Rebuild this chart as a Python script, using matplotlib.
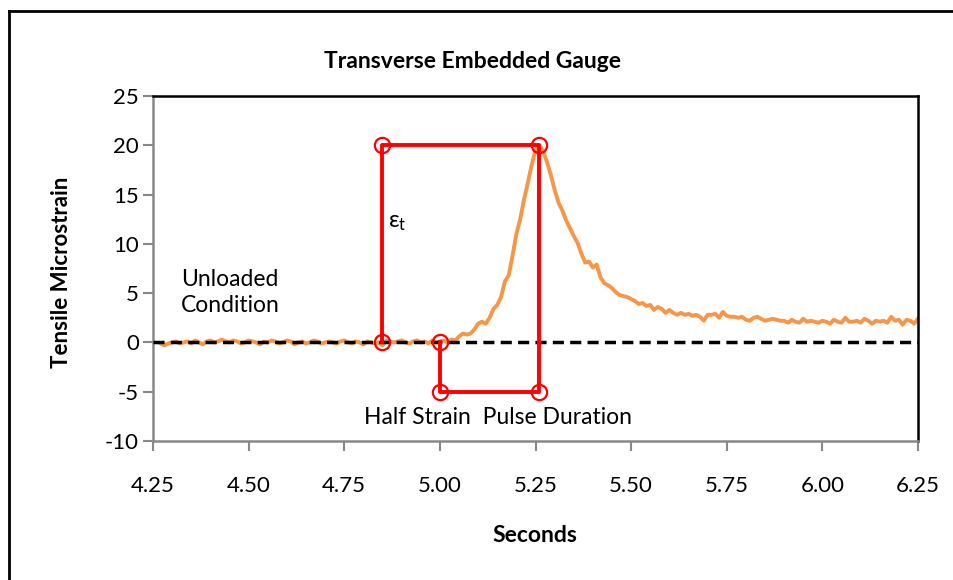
import numpy as np
import matplotlib
matplotlib.use("Agg")
import matplotlib.pyplot as plt
from matplotlib.lines import Line2D

plt.rcParams['font.family'] = ['Lato', 'DejaVu Sans']
plt.rcParams['axes.unicode_minus'] = False

# ---- data ----
t_start, t_end = 4.27, 6.25
strain = [
    # 4.27 - 4.99 baseline
    -0.1, -0.3, -0.1, 0.0, 0.1, -0.1, 0.0, 0.1, -0.1, 0.2,
    0.0, -0.2, 0.1, 0.2, 0.0, 0.1, 0.3, 0.1, 0.0, 0.2,
    0.1, -0.1, 0.0, 0.2, 0.1, 0.0, -0.2, 0.1, 0.0, 0.2,
    0.1, -0.1, 0.0, 0.2, 0.1, -0.2, 0.0, 0.1, -0.1, 0.0,
    0.2, 0.1, -0.1, 0.0, 0.1, 0.0, -0.1, 0.1, 0.2, 0.0,
    -0.1, 0.1, 0.0, -0.2, 0.1, 0.0, -0.1, 0.0, -0.3, 0.2,
    0.1, 0.0, 0.1, 0.2, 0.0, -0.1, 0.1, 0.2, 0.0, 0.1,
    -0.1, 0.2, 0.0,
    # 5.00 - 5.26 rise
    0.1, 0.2, 0.0, 0.3, 0.2, 0.6, 0.9, 0.8, 0.9, 1.3,
    1.9, 2.1, 1.9, 2.5, 3.4, 3.8, 4.6, 6.2, 6.8, 8.8,
    11.0, 12.5, 14.5, 16.2, 18.0, 19.5, 20.0,
    # 5.27 - 6.25 decay
    19.4, 18.3, 17.0, 15.5, 14.2, 13.4, 12.4, 11.6, 10.8, 10.1,
    9.0, 8.1, 8.2, 7.6, 7.9, 6.6, 6.0, 5.8, 5.5, 5.1,
    4.8, 4.7, 4.6, 4.4, 4.2, 3.9, 4.0, 3.7, 3.8, 3.3,
    3.6, 3.4, 3.0, 3.3, 3.0, 2.8, 3.0, 2.8, 2.9, 2.7,
    2.8, 2.6, 2.2, 2.8, 2.8, 2.9, 2.5, 3.1, 2.7, 2.6,
    2.6, 2.5, 2.6, 2.3, 2.2, 2.5, 2.6, 2.4, 2.2, 2.3,
    2.4, 2.3, 2.2, 2.2, 2.0, 2.3, 2.1, 2.0, 2.4, 2.1,
    2.2, 2.1, 2.0, 2.2, 2.1, 1.9, 2.3, 2.1, 2.0, 2.5,
    2.1, 2.1, 2.2, 2.0, 2.4, 2.2, 1.9, 2.2, 2.1, 2.2,
    2.0, 2.6, 2.2, 2.3, 1.8, 2.3, 2.2, 1.9, 2.4,
]
time = np.linspace(t_start, t_end, len(strain))

# annotation path (red)
box_x = [4.85, 4.85, 5.26, 5.26, 5.00, 5.00]
box_y = [0, 20, 20, -5, -5, 0]

x_ticks = [4.25, 4.50, 4.75, 5.00, 5.25, 5.50, 5.75, 6.00, 6.25]
y_ticks = [-10, -5, 0, 5, 10, 15, 20, 25]

# ---- figure ----
fig = plt.figure(figsize=(9.54, 5.8), dpi=100)
ax = fig.add_axes([153/954, 1-441/580, (918-153)/954, (441-96)/580])

ax.plot(time, strain, color='#F79646', lw=2.8, zorder=2)
ax.plot([4.25, 6.25], [0, 0], color='black', lw=2.5, dashes=(3.2, 1.8), zorder=3)
ax.plot(box_x, box_y, color='#FF0000', lw=2.8, zorder=4)
ax.plot(box_x, box_y, linestyle='none', marker='o', ms=11, mfc='none',
        mec='#FF0000', mew=1.6, zorder=5)

ax.set_xlim(4.25, 6.25)
ax.set_ylim(-10, 25)
ax.set_xticks(x_ticks)
ax.set_xticklabels([f"{v:.2f}" for v in x_ticks])
ax.set_yticks(y_ticks)
ax.set_yticklabels([str(v) for v in y_ticks])
ax.tick_params(axis='both', direction='out', length=7, width=1.5,
               color='#888888', labelsize=16)
ax.tick_params(axis='x', pad=18)
ax.tick_params(axis='y', pad=3)

for s in ['left', 'bottom']:
    ax.spines[s].set_color('#888888')
    ax.spines[s].set_linewidth(1.8)
for s in ['top', 'right']:
    ax.spines[s].set_color('black')
    ax.spines[s].set_linewidth(1.8)

fig.text(535/954, 1-536/580, 'Seconds', fontsize=16.5, fontweight='bold',
         ha='center', va='center')
fig.text(62/954, 1-272/580, 'Tensile Microstrain', fontsize=16, fontweight='bold',
         ha='center', va='center', rotation=90)
fig.text(473/954, 1-61/580, 'Transverse Embedded Gauge', fontsize=16.5,
         fontweight='bold', ha='center', va='center')

ax.text(4.323, 5.1, 'Unloaded\nCondition', fontsize=16.5, ha='left',
        va='center', linespacing=1.3)
ax.text(4.865, 12.2, r'$\mathregular{\epsilon_t}$', fontsize=17, ha='left', va='center')
ax.text(5.152, -7.6, 'Half Strain  Pulse Duration', fontsize=16.5, ha='center', va='center')

# outer chart border (left and top only visible)
fig.add_artist(Line2D([9/954, 9/954], [0, 1-11/580], transform=fig.transFigure,
                      color='black', lw=2))
fig.add_artist(Line2D([9/954, 1], [1-11/580, 1-11/580], transform=fig.transFigure,
                      color='black', lw=2))

fig.savefig('out.png', dpi=100)
